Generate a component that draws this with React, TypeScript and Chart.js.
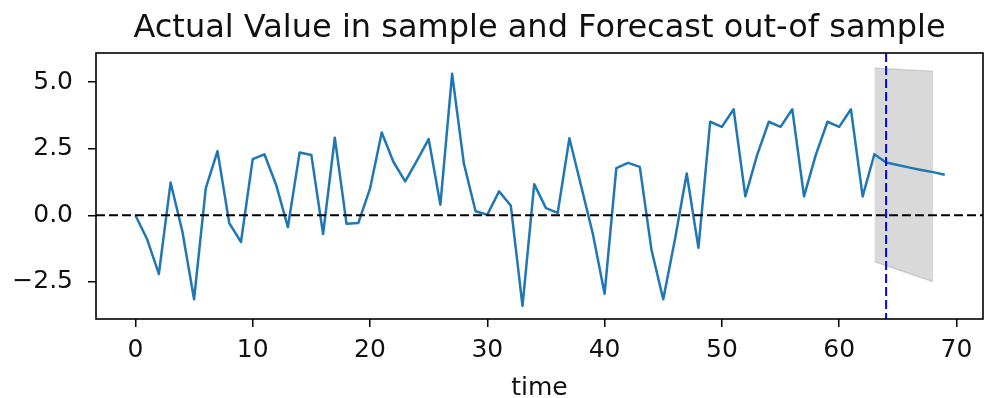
import React, { useEffect, useRef } from "react";
import { Chart, registerables } from "chart.js";

Chart.register(...registerables);

// ---- data ----
const seriesValues = [
  0, -0.9, -2.2, 1.23, -0.6, -3.15, 1.02, 2.41, -0.29, -1.0,
  2.11, 2.29, 1.14, -0.44, 2.36, 2.26, -0.7, 2.91, -0.32, -0.29,
  1.0, 3.11, 2.0, 1.27, 2.05, 2.86, 0.4, 5.31, 1.95, 0.15,
  0.02, 0.9, 0.37, -3.4, 1.17, 0.27, 0.09, 2.89, 1.1, -0.7,
  -2.94, 1.77, 1.97, 1.82, -1.3, -3.15, -0.9, 1.57, -1.22, 3.51,
  3.32, 3.98, 0.71, 2.26, 3.51, 3.32, 3.98, 0.71, 2.26, 3.51,
  3.32, 3.98, 0.71, 2.29, 1.98, 1.89, 1.79, 1.7, 1.62, 1.52,
];
const bandX = [63, 68];
const bandUpper = [5.53, 5.41];
const bandLower = [-1.74, -2.49];
const forecastStart = 64;
const zeroLevel = 0;
const xTicks = [0, 10, 20, 30, 40, 50, 60, 70];
const yTicks = [-2.5, 0, 2.5, 5];
const xRange = [-3.36, 72.26];
const yRange = [-3.89, 6.09];
const titleText = "Actual Value in sample and Forecast out-of sample";
const xLabel = "time";

const FONT = "'DejaVu Sans', sans-serif";

const overlayPlugin = {
  id: "overlay",
  afterDatasetsDraw(chart: any) {
    const { ctx, chartArea, scales } = chart;
    const y0 = scales.y.getPixelForValue(zeroLevel);
    const xv = scales.x.getPixelForValue(forecastStart);
    ctx.save();
    ctx.beginPath();
    ctx.rect(chartArea.left, chartArea.top, chartArea.right - chartArea.left, chartArea.bottom - chartArea.top);
    ctx.clip();
    ctx.lineWidth = 2;
    ctx.setLineDash([9, 4]);
    ctx.strokeStyle = "#000000";
    ctx.beginPath();
    ctx.moveTo(chartArea.left, y0);
    ctx.lineTo(chartArea.right, y0);
    ctx.stroke();
    ctx.strokeStyle = "#0000ff";
    ctx.beginPath();
    ctx.moveTo(xv, chartArea.top);
    ctx.lineTo(xv, chartArea.bottom);
    ctx.stroke();
    ctx.restore();
  },
  afterDraw(chart: any) {
    const { ctx, chartArea } = chart;
    ctx.save();
    ctx.lineWidth = 1.6;
    ctx.strokeStyle = "#000000";
    ctx.strokeRect(chartArea.left, chartArea.top, chartArea.right - chartArea.left, chartArea.bottom - chartArea.top);
    ctx.fillStyle = "#111111";
    ctx.font = `32px ${FONT}`;
    ctx.textAlign = "center";
    ctx.textBaseline = "alphabetic";
    ctx.fillText(titleText, (chartArea.left + chartArea.right) / 2, 37);
    ctx.restore();
  },
};

const fmt = (v: number) => v.toFixed(1).replace("-", "\u2212");

export default function App() {
  const ref = useRef<HTMLCanvasElement | null>(null);
  useEffect(() => {
    if (!ref.current) return;
    const chart = new Chart(ref.current, {
      type: "line",
      data: {
        datasets: [
          {
            data: seriesValues.map((v, i) => ({ x: i, y: v })),
            borderColor: "#1f77b4",
            borderWidth: 2.5,
            pointRadius: 0,
            tension: 0,
            fill: false,
            borderJoinStyle: "round",
            order: 1,
          },
          {
            data: bandX.map((x, i) => ({ x, y: bandUpper[i] })),
            borderColor: "rgba(0,0,0,0.12)",
            borderWidth: 1.5,
            backgroundColor: "rgba(0,0,0,0.15)",
            pointRadius: 0,
            fill: "+1",
            order: 2,
          },
          {
            data: bandX.map((x, i) => ({ x, y: bandLower[i] })),
            borderColor: "rgba(0,0,0,0.12)",
            borderWidth: 1.5,
            backgroundColor: "rgba(0,0,0,0.15)",
            pointRadius: 0,
            fill: false,
            order: 2,
          },
        ],
      },
      options: {
        animation: false,
        responsive: false,
        devicePixelRatio: 1,
        layout: { padding: { top: 53, right: 1, left: 0, bottom: 0 } },
        plugins: {
          legend: { display: false },
          tooltip: { enabled: false },
          title: { display: false },
        },
        scales: {
          x: {
            type: "linear",
            min: xRange[0],
            max: xRange[1],
            afterBuildTicks: (s: any) => {
              s.ticks = xTicks.map((v) => ({ value: v }));
            },
            afterFit: (s: any) => {
              s.height = 79;
            },
            border: { display: false },
            grid: {
              display: true,
              drawOnChartArea: false,
              drawTicks: true,
              tickLength: 8,
              tickColor: "#000000",
              lineWidth: 1.5,
            },
            ticks: {
              color: "#111111",
              font: { family: FONT, size: 25 },
              padding: 8,
              maxRotation: 0,
              autoSkip: false,
              callback: (v: any) => String(v),
            },
            title: {
              display: true,
              text: xLabel,
              color: "#111111",
              font: { family: FONT, size: 25, lineHeight: 0.8 },
              padding: { top: 0, bottom: 0 },
            },
          },
          y: {
            type: "linear",
            min: yRange[0],
            max: yRange[1],
            afterBuildTicks: (s: any) => {
              s.ticks = yTicks.map((v) => ({ value: v }));
            },
            afterFit: (s: any) => {
              s.width = 96;
            },
            border: { display: false },
            grid: {
              display: true,
              drawOnChartArea: false,
              drawTicks: true,
              tickLength: 8,
              tickColor: "#000000",
              lineWidth: 1.5,
            },
            ticks: {
              color: "#111111",
              font: { family: FONT, size: 25 },
              padding: 15,
              autoSkip: false,
              callback: (v: any) => fmt(Number(v)),
            },
          },
        },
      },
      plugins: [overlayPlugin],
    } as any);
    return () => chart.destroy();
  }, []);
  return (
    <div style={{ position: "absolute", left: 0, top: 0, width: 984, height: 398, background: "#fff" }}>
      <canvas ref={ref} width={984} height={398} style={{ width: 984, height: 398, display: "block" }} />
    </div>
  );
}
